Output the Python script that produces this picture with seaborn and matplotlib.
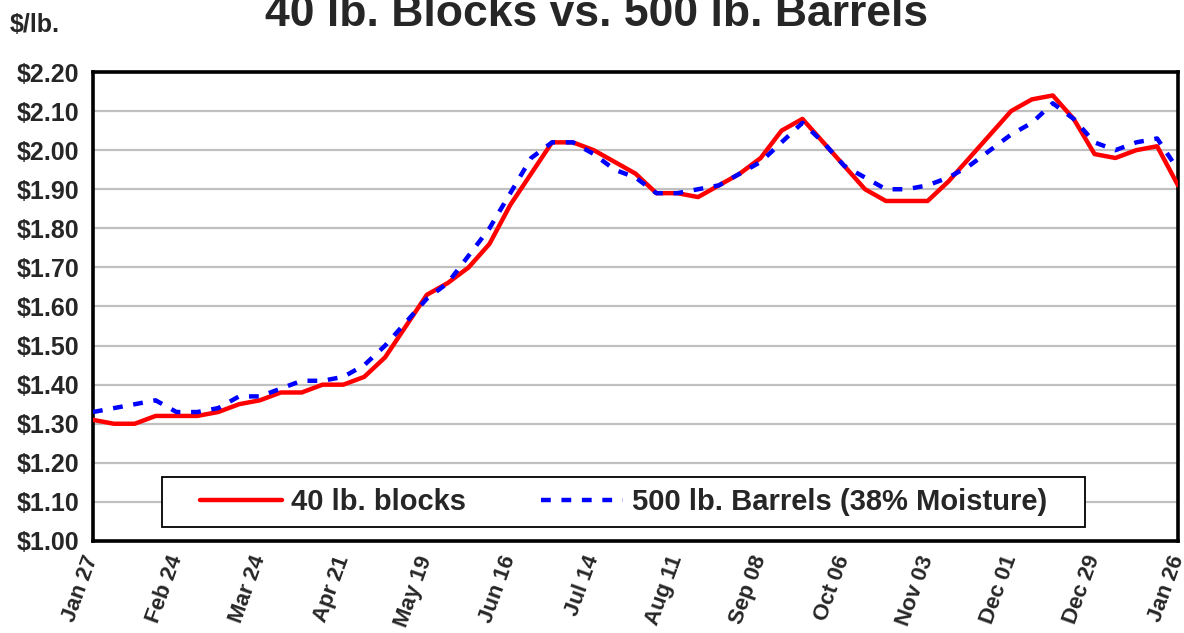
import numpy as np
import pandas as pd
import matplotlib
matplotlib.use("Agg")
import matplotlib.pyplot as plt
from matplotlib.patches import Rectangle
import seaborn as sns

# weekly cheese prices, $/lb.
blocks = [1.31, 1.30, 1.30, 1.32, 1.32, 1.32, 1.33, 1.35, 1.36, 1.38,
          1.38, 1.40, 1.40, 1.42, 1.47, 1.55, 1.63, 1.66, 1.70, 1.76,
          1.86, 1.94, 2.02, 2.02, 2.00, 1.97, 1.94, 1.89, 1.89, 1.88,
          1.91, 1.94, 1.98, 2.05, 2.08, 2.02, 1.96, 1.90, 1.87, 1.87,
          1.87, 1.92, 1.98, 2.04, 2.10, 2.13, 2.14, 2.08, 1.99, 1.98,
          2.00, 2.01, 1.91]
barrels = [1.33, 1.34, 1.35, 1.36, 1.33, 1.33, 1.34, 1.37, 1.37, 1.39,
           1.41, 1.41, 1.42, 1.45, 1.50, 1.56, 1.62, 1.66, 1.73, 1.80,
           1.89, 1.98, 2.02, 2.02, 1.99, 1.95, 1.93, 1.89, 1.89, 1.90,
           1.91, 1.94, 1.97, 2.02, 2.07, 2.02, 1.96, 1.93, 1.90, 1.90,
           1.91, 1.93, 1.96, 2.00, 2.04, 2.07, 2.12, 2.08, 2.02, 2.00,
           2.02, 2.03, 1.95]
tick_labels = ["Jan 27", "Feb 24", "Mar 24", "Apr 21", "May 19", "Jun 16", "Jul 14",
               "Aug 11", "Sep 08", "Oct 06", "Nov 03", "Dec 01", "Dec 29", "Jan 26"]
series_names = ["40 lb. blocks", "500 lb. Barrels (38% Moisture)"]

weeks = np.arange(len(blocks))
df = pd.DataFrame({
    "week": np.concatenate([weeks, weeks]),
    "price": blocks + barrels,
    "series": [series_names[0]] * len(blocks) + [series_names[1]] * len(barrels),
})

sns.set_style("white")
plt.rcParams["font.family"] = ["Liberation Sans", "DejaVu Sans"]
plt.rcParams["font.weight"] = "bold"

fig = plt.figure(figsize=(11.84, 6.33), dpi=100)
ax = fig.add_axes([93 / 1184, 1 - 541 / 633, (1178 - 93) / 1184, (541 - 72) / 633])

sns.lineplot(data=df, x="week", y="price", hue="series", style="series",
             palette={series_names[0]: "#ff0000", series_names[1]: "#0000ff"},
             dashes={series_names[0]: "", series_names[1]: (2.2, 2.4)},
             linewidth=3.2, ax=ax, zorder=3)

ax.set_xlim(0, len(blocks) - 1)
ax.set_ylim(1.0, 2.2)
ax.set_yticks(np.round(np.arange(1.0, 2.21, 0.1), 2))
ax.set_yticklabels([f"${v:.2f}" for v in np.arange(1.0, 2.21, 0.1)],
                   fontsize=18, fontweight="bold")
ax.set_xticks(weeks)
labels = [""] * len(weeks)
for k, lab in enumerate(tick_labels):
    labels[k * 4] = lab
ax.set_xticklabels(labels, rotation=70, ha="right", va="center",
                   rotation_mode="anchor", fontsize=16, fontweight="bold")
ax.tick_params(axis="x", direction="out", length=6, width=1.5, color="black", pad=5)
ax.tick_params(axis="y", direction="out", length=8, width=1.5, color="black", pad=2)
ax.set_xlabel("")
ax.set_ylabel("")

ax.grid(axis="y", color="#c0c0c0", linewidth=1.6)
ax.set_axisbelow(True)
for sp in ax.spines.values():
    sp.set_visible(True)
    sp.set_color("black")
    sp.set_linewidth(2.6)

# legend box is wider than the entries, like the original
ax.add_patch(Rectangle((0.0636, 0.0299), 0.8507, 0.1066, transform=ax.transAxes,
                       facecolor="white", edgecolor="black", linewidth=1.3, zorder=4))
leg = ax.legend(loc="center", bbox_to_anchor=(0.489, 0.083), ncol=2,
                prop={"size": 21, "weight": "bold"}, handlelength=2.8,
                handletextpad=0.3, columnspacing=2.6, borderpad=0.4,
                frameon=False)
leg.set_zorder(5)

fig.text(0.504, 1 - 26 / 633, "40 lb. Blocks vs. 500 lb. Barrels",
         ha="center", va="baseline", fontsize=32, fontweight="bold")
fig.text(0.008, 1 - 32 / 633, "$/lb.", ha="left", va="baseline",
         fontsize=18, fontweight="bold")

fig.savefig("out.png", dpi=100)
